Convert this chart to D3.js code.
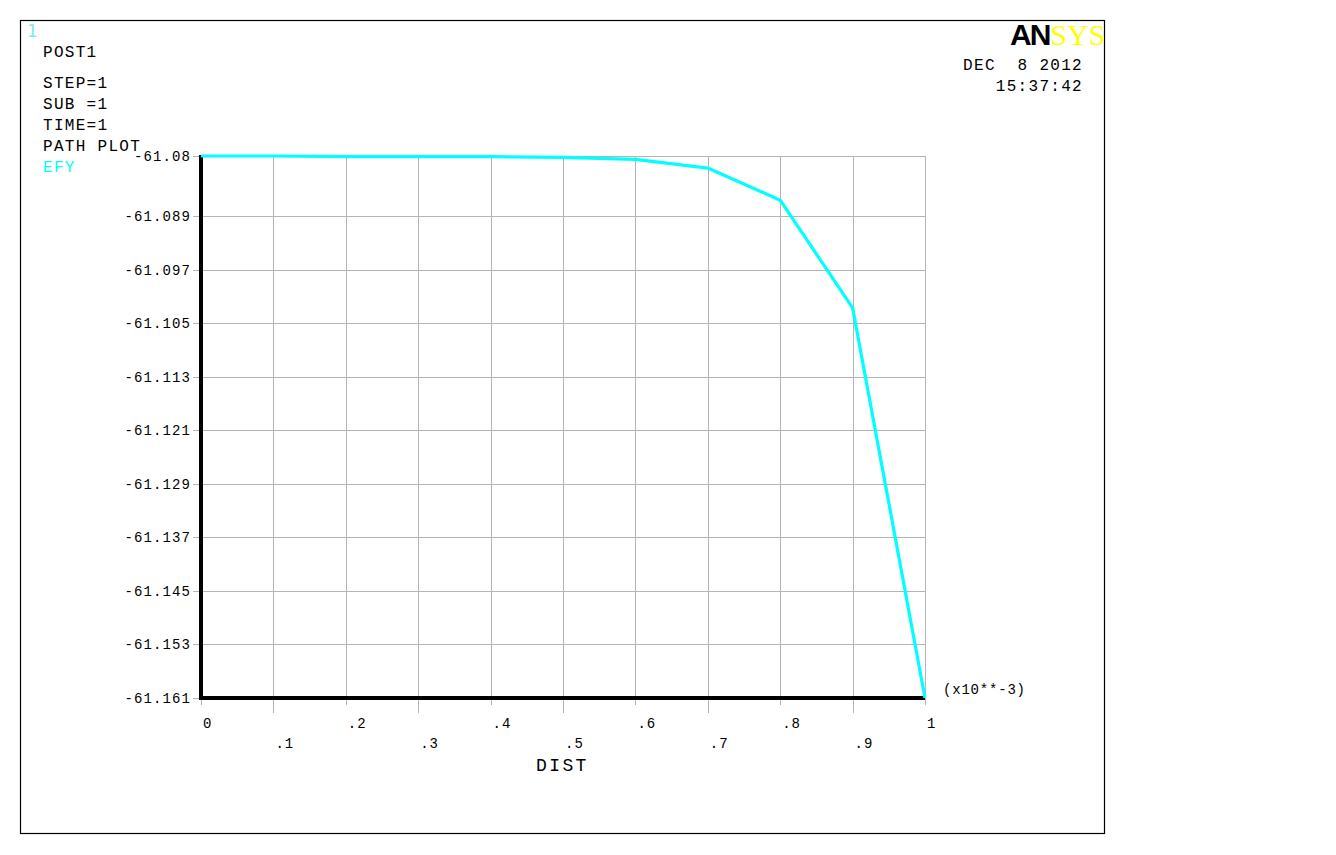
<!DOCTYPE html>
<html>
<head>
<meta charset="utf-8">
<script src="https://cdn.jsdelivr.net/npm/d3@7"></script>
<style>
  html, body { margin: 0; padding: 0; background: #fff; }
  svg { display: block; }
  .mono { font-family: "Liberation Mono", "DejaVu Sans Mono", monospace; }
</style>
</head>
<body>
<svg id="chart" width="1336" height="855"></svg>
<script>
// ---- data ----
const dist = [0, 0.1, 0.2, 0.3, 0.4, 0.5, 0.6, 0.7, 0.8, 0.9, 1.0];
const efy = [-61.0800, -61.0800, -61.0801, -61.0801, -61.0801, -61.0802, -61.0805, -61.0818, -61.0866, -61.1027, -61.161];
const yTicks = [-61.161, -61.153, -61.145, -61.137, -61.129, -61.121, -61.113, -61.105, -61.097, -61.089, -61.08];
const yTickLabels = ["-61.161", "-61.153", "-61.145", "-61.137", "-61.129", "-61.121", "-61.113", "-61.105", "-61.097", "-61.089", "-61.08"];
const xTicks = [0, 0.1, 0.2, 0.3, 0.4, 0.5, 0.6, 0.7, 0.8, 0.9, 1.0];
const xTickLabels = ["0", ".1", ".2", ".3", ".4", ".5", ".6", ".7", ".8", ".9", "1"];
const infoLines = ["STEP=1", "SUB =1", "TIME=1", "PATH PLOT"];

const svg = d3.select("#chart");
const x = d3.scaleLinear().domain([0, 1]).range([201, 925]);
const y = d3.scaleLinear().domain([-61.161, -61.08]).range([698, 156]);

// frame
svg.append("rect").attr("x", 20.5).attr("y", 20.5).attr("width", 1084).attr("height", 813)
  .attr("fill", "none").attr("stroke", "#000").attr("stroke-width", 1.2);

const grid = "#b4b4b4";
// horizontal grid + tick marks
svg.append("g").selectAll("line").data(yTicks).join("line")
  .attr("x1", 193).attr("x2", x(1))
  .attr("y1", d => Math.round(y(d)) + 0.5).attr("y2", d => Math.round(y(d)) + 0.5)
  .attr("stroke", grid).attr("stroke-width", 1);
// vertical grid + tick marks
svg.append("g").selectAll("line").data(xTicks).join("line")
  .attr("x1", d => Math.round(x(d)) + 0.5).attr("x2", d => Math.round(x(d)) + 0.5)
  .attr("y1", y(-61.08)).attr("y2", (d, i) => i % 2 ? 713 : 705)
  .attr("stroke", grid).attr("stroke-width", 1);

// axes
svg.append("line").attr("x1", 201).attr("x2", 201).attr("y1", 155).attr("y2", 700)
  .attr("stroke", "#000").attr("stroke-width", 4);
svg.append("line").attr("x1", 199).attr("x2", x(1)).attr("y1", 698).attr("y2", 698)
  .attr("stroke", "#000").attr("stroke-width", 4);

// y labels
svg.append("g").selectAll("text").data(yTicks).join("text")
  .attr("class", "mono")
  .attr("x", 191).attr("y", d => y(d) + 5)
  .attr("text-anchor", "end")
  .attr("font-size", 14).attr("letter-spacing", 1.1)
  .attr("fill", "#000")
  .text((d, i) => yTickLabels[i]);

// x labels
svg.append("g").selectAll("text").data(xTicks).join("text")
  .attr("class", "mono")
  .attr("x", d => x(d) + 2).attr("y", (d, i) => i % 2 ? 748 : 728)
  .attr("font-size", 14).attr("letter-spacing", 1)
  .attr("fill", "#000")
  .text((d, i) => xTickLabels[i]);

svg.append("text").attr("class", "mono").attr("x", 943).attr("y", 694)
  .attr("font-size", 14).attr("letter-spacing", 0.8).text("(x10**-3)");

svg.append("text").attr("class", "mono").attr("x", 536).attr("y", 771)
  .attr("font-size", 18).attr("letter-spacing", 2.4).text("DIST");

// curve
svg.append("path")
  .datum(dist.map((d, i) => [d, efy[i]]))
  .attr("d", d3.line().x(d => x(d[0])).y(d => y(d[1])))
  .attr("fill", "none").attr("stroke", "#00ffff").attr("stroke-width", 3.2)
  .attr("stroke-linejoin", "round");

// header texts
svg.append("text").attr("x", 27).attr("y", 37).attr("font-family", "DejaVu Sans Mono, monospace")
  .attr("font-size", 17).attr("fill", "#7fe9f0").attr("font-weight", 300).text("1");
svg.append("text").attr("class", "mono").attr("x", 43).attr("y", 57)
  .attr("font-size", 16).attr("letter-spacing", 1.3).text("POST1");
svg.append("g").selectAll("text").data(infoLines).join("text")
  .attr("class", "mono").attr("x", 43).attr("y", (d, i) => 88 + i * 21)
  .attr("font-size", 16).attr("letter-spacing", 1.3).text(d => d);
svg.append("text").attr("class", "mono").attr("x", 43).attr("y", 172)
  .attr("font-size", 16).attr("letter-spacing", 1.3).attr("fill", "#00ffff").text("EFY");

svg.append("text").attr("class", "mono").attr("x", 1083).attr("y", 70).attr("text-anchor", "end")
  .attr("font-size", 16).attr("letter-spacing", 1.3).attr("xml:space", "preserve").text("DEC  8 2012");
svg.append("text").attr("class", "mono").attr("x", 1083).attr("y", 91).attr("text-anchor", "end")
  .attr("font-size", 16).attr("letter-spacing", 1.3).text("15:37:42");

// ANSYS logo
const logo = svg.append("text").attr("x", 1010).attr("y", 45).attr("font-size", 30);
logo.append("tspan").attr("font-family", "Liberation Sans, Arial, sans-serif").attr("font-weight", "bold")
  .attr("letter-spacing", -2).attr("fill", "#000").text("AN");
logo.append("tspan").attr("font-family", "Liberation Serif, serif")
  .attr("fill", "#ffff00").attr("dx", 1).text("SYS");
</script>
</body>
</html>
